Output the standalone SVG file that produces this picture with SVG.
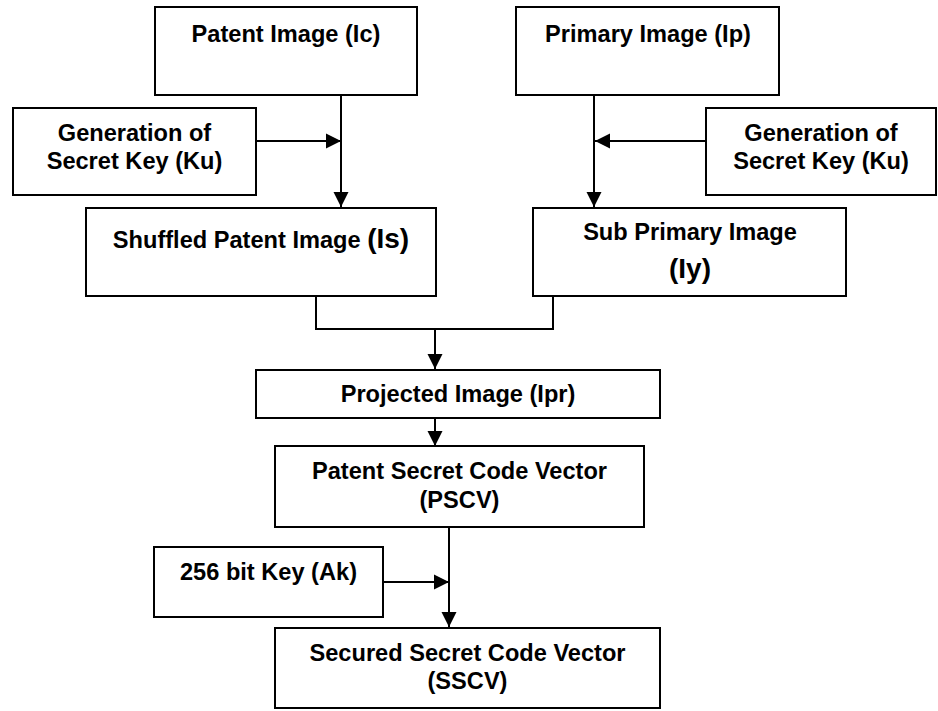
<svg xmlns="http://www.w3.org/2000/svg" width="938" height="711" viewBox="0 0 938 711">
  <style>
    .box { fill: #fff; stroke: #000; stroke-width: 2; }
    .lbl { font-family: "Liberation Sans", Arial, sans-serif; font-weight: bold; font-size: 23.6px; fill: #000; text-anchor: middle; }
    .big { font-size: 28px; }
    .conn { fill: none; stroke: #000; stroke-width: 2; }
  </style>
  <defs>
    <marker id="arrow" markerUnits="userSpaceOnUse" markerWidth="16" markerHeight="16" viewBox="0 0 16 16" refX="15" refY="8" orient="auto">
      <path d="M0,0.5 L15,8 L0,15.5 Z" fill="#000"/>
    </marker>
  </defs>
  <rect width="938" height="711" fill="#fff"/>

  <g id="connectors">
    <line class="conn" x1="341" y1="95" x2="341" y2="207" marker-end="url(#arrow)"/>
    <line class="conn" x1="256" y1="141" x2="341" y2="141" marker-end="url(#arrow)"/>
    <line class="conn" x1="594" y1="95" x2="594" y2="207" marker-end="url(#arrow)"/>
    <line class="conn" x1="706" y1="141" x2="595" y2="141" marker-end="url(#arrow)"/>
    <path class="conn" d="M316,296 V329 H553 V296"/>
    <line class="conn" x1="435" y1="329" x2="435" y2="369" marker-end="url(#arrow)"/>
    <line class="conn" x1="435" y1="418" x2="435" y2="446" marker-end="url(#arrow)"/>
    <line class="conn" x1="449" y1="527" x2="449" y2="627" marker-end="url(#arrow)"/>
    <line class="conn" x1="383" y1="582" x2="449" y2="582" marker-end="url(#arrow)"/>
  </g>

  <g id="patent-image">
    <rect class="box" x="155" y="7" width="262" height="88"/>
    <text class="lbl" x="286" y="42">Patent Image (Ic)</text>
  </g>
  <g id="primary-image">
    <rect class="box" x="516" y="7" width="263" height="88"/>
    <text class="lbl" x="648" y="42">Primary Image (Ip)</text>
  </g>
  <g id="keygen-left">
    <rect class="box" x="13" y="108" width="243" height="87"/>
    <text class="lbl" x="134.5" y="141">Generation of</text>
    <text class="lbl" x="134.5" y="169">Secret Key (Ku)</text>
  </g>
  <g id="keygen-right">
    <rect class="box" x="706" y="108" width="230" height="87"/>
    <text class="lbl" x="821" y="141">Generation of</text>
    <text class="lbl" x="821" y="169">Secret Key (Ku)</text>
  </g>
  <g id="shuffled-image">
    <rect class="box" x="86" y="208" width="350" height="88"/>
    <text class="lbl" x="261" y="248">Shuffled Patent Image <tspan class="big">(Is)</tspan></text>
  </g>
  <g id="sub-primary-image">
    <rect class="box" x="533" y="208" width="313" height="88"/>
    <text class="lbl" x="690" y="240">Sub Primary Image</text>
    <text class="lbl big" x="690" y="278">(Iy)</text>
  </g>
  <g id="projected-image">
    <rect class="box" x="256" y="370" width="404" height="48"/>
    <text class="lbl" x="458" y="402">Projected Image (Ipr)</text>
  </g>
  <g id="pscv">
    <rect class="box" x="275" y="446" width="369" height="81"/>
    <text class="lbl" x="459.5" y="479">Patent Secret Code Vector</text>
    <text class="lbl" x="459.5" y="508">(PSCV)</text>
  </g>
  <g id="key-256">
    <rect class="box" x="154" y="547" width="229" height="70"/>
    <text class="lbl" x="268.5" y="580">256 bit Key (Ak)</text>
  </g>
  <g id="sscv">
    <rect class="box" x="275" y="628" width="385" height="80"/>
    <text class="lbl" x="467.5" y="661">Secured Secret Code Vector</text>
    <text class="lbl" x="467.5" y="689">(SSCV)</text>
  </g>
</svg>
